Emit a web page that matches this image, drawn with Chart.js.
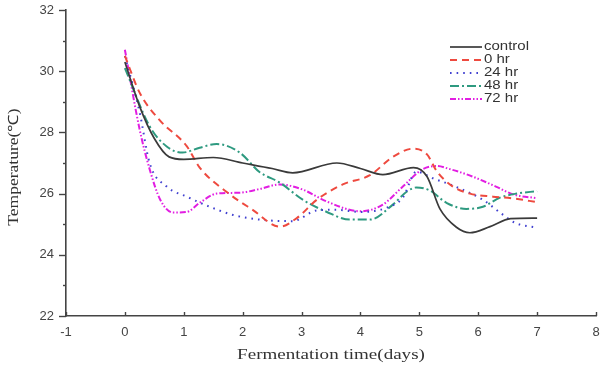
<!DOCTYPE html>
<html>
<head>
<meta charset="utf-8">
<script src="https://cdn.jsdelivr.net/npm/chart.js@4.4.1/dist/chart.umd.min.js"></script>
<style>
  html, body { margin: 0; padding: 0; background: #fff; }
  canvas { display: block; }
</style>
</head>
<body>
<canvas id="c" width="610" height="365"></canvas>
<script>
// ---- data ----
const seriesNames = ["control", "0 hr", "24 hr", "48 hr", "72 hr"];
const xTitle = "Fermentation time(days)";
const yTitle = "Temperature(℃)";

const controlDays = [0, 0.25, 0.5, 0.75, 1, 1.5, 2, 2.5, 2.85, 3.6, 4.0, 4.38, 4.9, 5.13, 5.35, 5.63, 5.86, 6.2, 6.55, 7];
const controlTemp = [30.3, 28.85, 27.8, 27.2, 27.12, 27.18, 27.0, 26.82, 26.68, 27.0, 26.82, 26.62, 26.85, 26.56, 25.5, 24.9, 24.72, 24.92, 25.18, 25.2];

const hr0Days = [0, 0.25, 0.59, 1.05, 1.27, 1.73, 2.17, 2.63, 2.92, 3.26, 3.7, 4.16, 4.55, 4.9, 5.13, 5.3, 5.57, 5.86, 6.25, 6.6, 7];
const hr0Temp = [30.5, 29.3, 28.4, 27.55, 26.85, 26.05, 25.47, 24.92, 25.2, 25.8, 26.3, 26.6, 27.2, 27.47, 27.28, 26.72, 26.23, 26.0, 25.9, 25.84, 25.72];

const hr24Days = [0, 0.25, 0.42, 0.71, 1.05, 1.44, 1.84, 2.29, 2.85, 3.26, 3.6, 4.0, 4.45, 4.72, 4.95, 5.23, 5.52, 5.8, 6.08, 6.37, 6.62, 7];
const hr24Temp = [30.5, 28.66, 27.0, 26.23, 25.9, 25.57, 25.3, 25.15, 25.1, 25.45, 25.47, 25.4, 25.54, 25.87, 26.72, 26.5, 26.3, 26.07, 25.8, 25.38, 25.05, 24.88];

const hr48Days = [0, 0.42, 0.71, 0.98, 1.27, 1.56, 1.95, 2.29, 2.63, 3.02, 3.43, 3.82, 4.16, 4.55, 4.79, 4.95, 5.18, 5.46, 5.8, 6.08, 6.37, 6.65, 7];
const hr48Temp = [30.1, 28.2, 27.54, 27.34, 27.5, 27.62, 27.34, 26.7, 26.36, 25.8, 25.4, 25.15, 25.15, 25.64, 26.07, 26.2, 26.1, 25.7, 25.5, 25.57, 25.87, 26.0, 26.08];

const hr72Days = [0, 0.25, 0.42, 0.6, 0.82, 1.05, 1.27, 1.56, 1.95, 2.29, 2.63, 3.02, 3.43, 4.0, 4.38, 4.72, 5.06, 5.3, 5.52, 5.9, 6.3, 6.6, 7];
const hr72Temp = [30.7, 28.1, 26.8, 25.8, 25.38, 25.4, 25.7, 26.0, 26.03, 26.15, 26.3, 26.13, 25.74, 25.42, 25.64, 26.23, 26.8, 26.9, 26.8, 26.56, 26.23, 25.97, 25.85];

const xTicks = [-1, 0, 1, 2, 3, 4, 5, 6, 7, 8];
const yTicks = [22, 24, 26, 28, 30, 32];
const yMinorTicks = [23, 25, 27, 29, 31];

// ---- styling ----
const styles = [
  { color: "#3a3a3a", dash: [], width: 1.7 },
  { color: "#ee4a3f", dash: [7, 5], width: 2 },
  { color: "#4040d0", dash: [1.6, 5], width: 2 },
  { color: "#2e9a80", dash: [9, 3, 2, 3], width: 2 },
  { color: "#e21ee2", dash: [6, 2, 1.5, 2, 1.5, 2], width: 2 }
];

function pts(xs, ys) { return xs.map((x, i) => ({ x: x, y: ys[i] })); }
const allData = [
  pts(controlDays, controlTemp),
  pts(hr0Days, hr0Temp),
  pts(hr24Days, hr24Temp),
  pts(hr48Days, hr48Temp),
  pts(hr72Days, hr72Temp)
];

const datasets = seriesNames.map((n, i) => ({
  label: n,
  data: allData[i],
  borderColor: styles[i].color,
  borderDash: styles[i].dash,
  borderWidth: styles[i].width,
  pointRadius: 0,
  fill: false,
  cubicInterpolationMode: "monotone",
  order: i === 0 ? 0 : 1
}));

const axisColor = "#444";
const sansFont = "'Liberation Sans', Arial, sans-serif";
const serifFont = "'Liberation Serif', 'Times New Roman', serif";

function stretchedText(ctx, text, x, y, sx) {
  ctx.save();
  ctx.translate(x, y);
  ctx.scale(sx, 1);
  ctx.fillText(text, 0, 0);
  ctx.restore();
}

const tickPlugin = {
  id: "ticksAndLegend",
  afterDraw(chart) {
    const ctx = chart.ctx;
    const xs = chart.scales.x, ys = chart.scales.y;
    const area = chart.chartArea;
    ctx.save();
    ctx.strokeStyle = axisColor;
    ctx.lineWidth = 1.4;
    ctx.setLineDash([]);
    // x ticks (inward)
    xTicks.forEach(v => {
      const px = Math.round(xs.getPixelForValue(v)) + 0.5;
      ctx.beginPath();
      ctx.moveTo(px, area.bottom);
      ctx.lineTo(px, area.bottom - 4);
      ctx.stroke();
    });
    // y ticks (outward)
    yTicks.forEach(v => {
      const py = Math.round(ys.getPixelForValue(v)) + 0.5;
      ctx.beginPath();
      ctx.moveTo(area.left, py);
      ctx.lineTo(area.left - 7, py);
      ctx.stroke();
    });
    yMinorTicks.forEach(v => {
      const py = Math.round(ys.getPixelForValue(v)) + 0.5;
      ctx.beginPath();
      ctx.moveTo(area.left, py);
      ctx.lineTo(area.left - 3, py);
      ctx.stroke();
    });
    // legend
    const lx0 = 450, lx1 = 482, tx = 484;
    const y0 = 47, dy = 13;
    ctx.font = "12px " + sansFont;
    ctx.textBaseline = "middle";
    ctx.textAlign = "left";
    chart.data.datasets.forEach((ds, i) => {
      const y = y0 + i * dy;
      ctx.strokeStyle = ds.borderColor;
      ctx.lineWidth = ds.borderWidth;
      ctx.setLineDash(ds.borderDash);
      ctx.beginPath();
      ctx.moveTo(lx0, y);
      ctx.lineTo(lx1, y);
      ctx.stroke();
      ctx.fillStyle = "#333";
      stretchedText(ctx, ds.label, tx, y, 1.25);
    });
    // axis titles
    ctx.fillStyle = "#333";
    ctx.font = "15px " + serifFont;
    ctx.textAlign = "center";
    ctx.textBaseline = "middle";
    stretchedText(ctx, xTitle, 331, 355, 1.27);
    ctx.save();
    ctx.translate(14, 167);
    ctx.rotate(-Math.PI / 2);
    ctx.font = "14px " + serifFont;
    stretchedText(ctx, yTitle, 0, 0, 1.25);
    ctx.restore();
    ctx.restore();
  }
};

new Chart(document.getElementById("c"), {
  type: "line",
  data: { datasets: datasets },
  options: {
    responsive: false,
    animation: false,
    devicePixelRatio: 1,
    layout: { padding: { top: 10, right: 14, left: 0, bottom: 0 } },
    plugins: { legend: { display: false }, tooltip: { enabled: false } },
    scales: {
      x: {
        type: "linear",
        min: -1, max: 8,
        afterBuildTicks(scale) { scale.ticks = xTicks.map(v => ({ value: v })); },
        afterFit(scale) { scale.height = 49; scale.paddingLeft = 0; scale.paddingRight = 0; },
        grid: { display: false, drawTicks: false },
        border: { display: true, color: axisColor, width: 1.6 },
        ticks: { color: "#444", padding: 9, font: { family: sansFont, size: 13 }, maxRotation: 0 },
        title: { display: false }
      },
      y: {
        type: "linear",
        min: 22, max: 32,
        afterBuildTicks(scale) { scale.ticks = yTicks.map(v => ({ value: v })); },
        afterFit(scale) { scale.width = 66; scale.paddingTop = 0; scale.paddingBottom = 0; },
        grid: { display: false, drawTicks: false },
        border: { display: true, color: axisColor, width: 1.6 },
        ticks: { color: "#444", padding: 12, font: { family: sansFont, size: 13 } },
        title: { display: false }
      }
    }
  },
  plugins: [tickPlugin]
});
</script>
</body>
</html>
